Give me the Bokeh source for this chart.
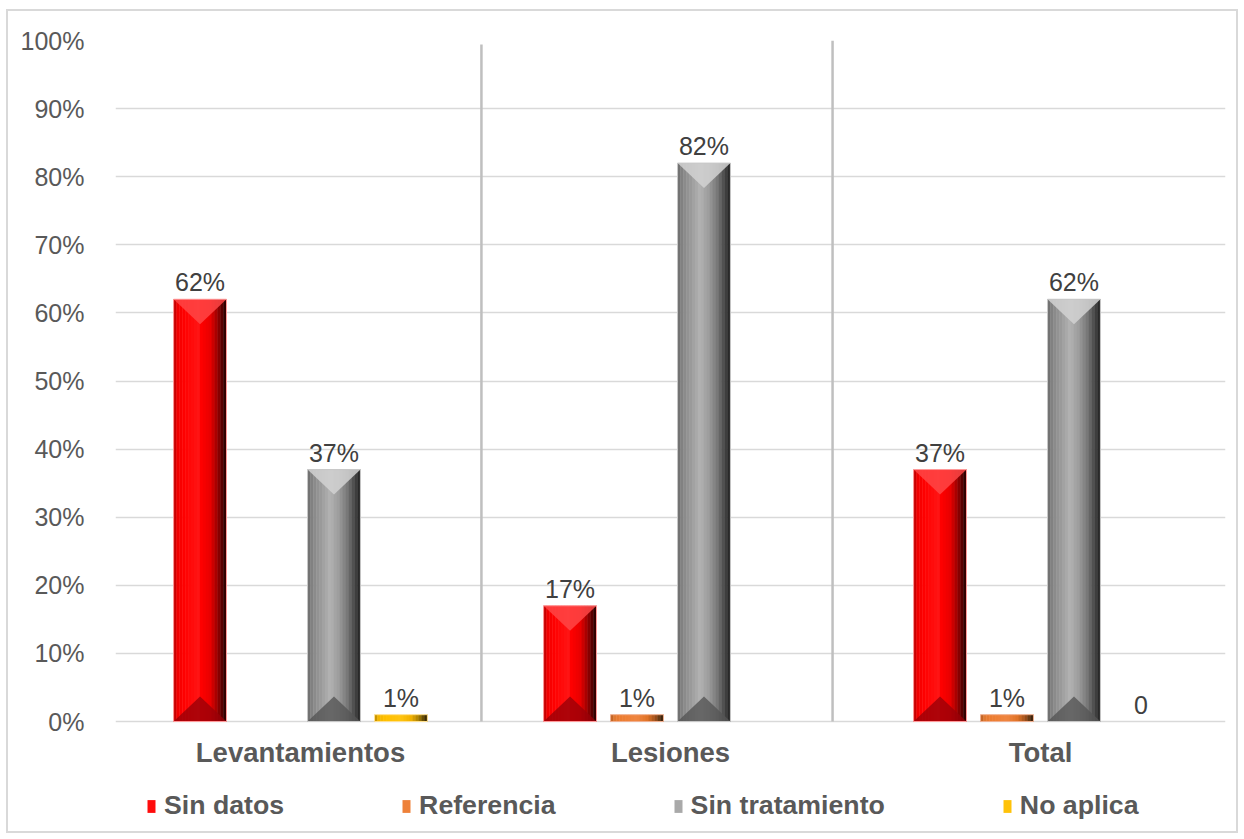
import numpy as np
from bokeh.plotting import figure
from bokeh.models import Range1d, FixedTicker, Legend, LegendItem
from bokeh.core.properties import value
from bokeh.embed import file_html
from bokeh.resources import INLINE

# ---------------- data ----------------
categories = ["Levantamientos", "Lesiones", "Total"]
series_names = ["Sin datos", "Referencia", "Sin tratamiento", "No aplica"]
sin_datos = [0.62, 0.17, 0.37]
referencia = [None, 0.01, 0.01]
sin_tratamiento = [0.37, 0.82, 0.62]
no_aplica = [0.01, None, 0.0]
y_ticks = [0.0, 0.1, 0.2, 0.3, 0.4, 0.5, 0.6, 0.7, 0.8, 0.9, 1.0]
y_tick_labels = ["0%", "10%", "20%", "30%", "40%", "50%", "60%", "70%", "80%", "90%", "100%"]

series_values = [sin_datos, referencia, sin_tratamiento, no_aplica]

# ---------------- styles / layout ----------------
FONT = "Liberation Sans"
TXT = "#595959"
BAR_W = 0.143
SLOT = 0.181
N_STRIPS = 18
separators = [0.989, 1.938]

W, H = 1232, 824
B_LEFT, B_RIGHT, B_TOP, B_BOTTOM = 107, 15, 29, 2
PX_PER_UNIT = 681.0          # pixels between 0% and 100%
frame_h = H - B_TOP - B_BOTTOM
y_start = 1.0 - frame_h / PX_PER_UNIT

profiles = [
    [(0, "#b00000"), (0.07, "#f00000"), (0.2, "#ff0000"), (0.48, "#ff1515"), (0.52, "#ff0000"),
     (0.7, "#e80000"), (0.85, "#900000"), (0.95, "#400000"), (1, "#200000")],
    [(0, "#b05a20"), (0.07, "#e07830"), (0.2, "#ed7d31"), (0.5, "#ef8540"), (0.7, "#e07428"),
     (0.85, "#a0501a"), (0.95, "#503010"), (1, "#301808")],
    [(0, "#6a6a6a"), (0.1, "#868686"), (0.45, "#b5b5b5"), (0.5, "#a2a2a2"), (0.55, "#a6a6a6"),
     (0.75, "#787878"), (0.9, "#444444"), (1, "#1e1e1e")],
    [(0, "#b08000"), (0.07, "#f0b400"), (0.2, "#ffc000"), (0.5, "#ffc410"), (0.7, "#f0b000"),
     (0.85, "#a07800"), (0.95, "#503a00"), (1, "#302000")],
]
top_colors = ["#ff4545", "#f5a070", "#d2d2d2", "#ffd860"]
bottom_colors = ["#9a0008", "#9a4a18", "#555555", "#a07800"]
outline_colors = ["#ff9a9a", "#f0b090", "#c8c8c8", "#ffe090"]


def hex2rgb(h):
    h = h.lstrip("#")
    return np.array([int(h[i:i + 2], 16) for i in (0, 2, 4)], dtype=float)


def interp(stops, t):
    for (p0, c0), (p1, c1) in zip(stops[:-1], stops[1:]):
        if p0 <= t <= p1:
            f = (t - p0) / (p1 - p0) if p1 > p0 else 0
            c = hex2rgb(c0) * (1 - f) + hex2rgb(c1) * f
            return "#%02x%02x%02x" % tuple(int(round(v)) for v in c)
    return stops[-1][1]


p = figure(width=W, height=H, output_backend="svg", toolbar_location=None,
           x_range=Range1d(0, 3), y_range=Range1d(y_start, 1),
           min_border_left=B_LEFT, min_border_right=B_RIGHT,
           min_border_top=B_TOP, min_border_bottom=B_BOTTOM)
p.styles = {"border": "2px solid #d9d9d9", "margin-left": "6px", "margin-top": "9px"}
p.outline_line_color = None
p.background_fill_color = "white"
p.border_fill_color = "white"

p.xgrid.grid_line_color = None
p.ygrid.grid_line_color = "#d9d9d9"
p.ygrid.grid_line_width = 1.5
p.ygrid.ticker = FixedTicker(ticks=y_ticks)

p.yaxis.ticker = FixedTicker(ticks=y_ticks)
p.yaxis.major_label_overrides = {t: l for t, l in zip(y_ticks, y_tick_labels)}
p.yaxis.axis_line_color = None
p.yaxis.major_tick_line_color = None
p.yaxis.minor_tick_line_color = None
p.yaxis.major_label_standoff = 25
p.yaxis.major_label_text_font = FONT
p.yaxis.major_label_text_font_size = "25px"
p.yaxis.major_label_text_color = TXT

p.xaxis.visible = False

cat_centers = [i + 0.5 for i in range(len(categories))]

# category labels (drawn inside the extended frame, below the 0% line)
p.text(x=cat_centers, y=[0] * len(categories), text=categories, text_align="center",
       text_baseline="middle", y_offset=31, text_font=value(FONT), text_font_size="27.5px",
       text_font_style="bold", text_color=TXT)

# separators between groups
p.segment(x0=separators, y0=[0, 0], x1=separators, y1=[0.994, 1.0], line_color="#bfbfbf", line_width=2.5)

legend_items = []
bevel_d = 25 / PX_PER_UNIT
for s, (name, vals) in enumerate(zip(series_names, series_values)):
    off = (s - 1.5) * SLOT
    xs = [cat_centers[i] + off for i, v in enumerate(vals) if v is not None and v > 0]
    tops = [v for v in vals if v is not None and v > 0]
    mid_r = None
    for k in range(N_STRIPS):
        t = (k + 0.5) / N_STRIPS
        sx = [x - BAR_W / 2 + t * BAR_W for x in xs]
        r = p.vbar(x=sx, top=tops, bottom=0, width=BAR_W / N_STRIPS * 1.15,
                   fill_color=interp(profiles[s], t), line_color=None)
        if k == N_STRIPS // 3:
            mid_r = r
    # top and bottom bevel triangles
    txs, tys, bxs, bys = [], [], [], []
    for x, h in zip(xs, tops):
        d = min(bevel_d, h / 2.5)
        if h < 0.03:
            continue
        txs.append([x - BAR_W / 2, x + BAR_W / 2, x])
        tys.append([h, h, h - d])
        bxs.append([x - BAR_W / 2, x + BAR_W / 2, x])
        bys.append([0, 0, d])
    if txs:
        p.patches(xs=txs, ys=tys, fill_color=top_colors[s], fill_alpha=0.85, line_color=None)
        p.patches(xs=bxs, ys=bys, fill_color=bottom_colors[s], fill_alpha=0.8, line_color=None)
    # outline
    p.vbar(x=xs, top=tops, bottom=0, width=BAR_W, fill_color=None,
           line_color=outline_colors[s], line_width=1)
    # data labels
    lx = [cat_centers[i] + off for i, v in enumerate(vals) if v is not None]
    ly = [v for v in vals if v is not None]
    lt = [("%d%%" % round(v * 100)) if v > 0 else "0" for v in vals if v is not None]
    p.text(x=lx, y=ly, text=lt, text_align="center", text_baseline="alphabetic", y_offset=-17,
           text_font=value(FONT), text_font_size="25px", text_color="#404040")
    legend_items.append(LegendItem(label=name, renderers=[mid_r]))

legend = Legend(items=legend_items, orientation="horizontal", location=(31, 12),
                spacing=117, padding=0, margin=0, glyph_width=10, glyph_height=16,
                label_standoff=8, border_line_color=None, background_fill_alpha=0,
                label_text_font=FONT, label_text_font_size="26.7px", label_text_font_style="bold",
                label_text_color=TXT)
p.add_layout(legend, "center")

open("out.html", "w").write(file_html(p, INLINE))
